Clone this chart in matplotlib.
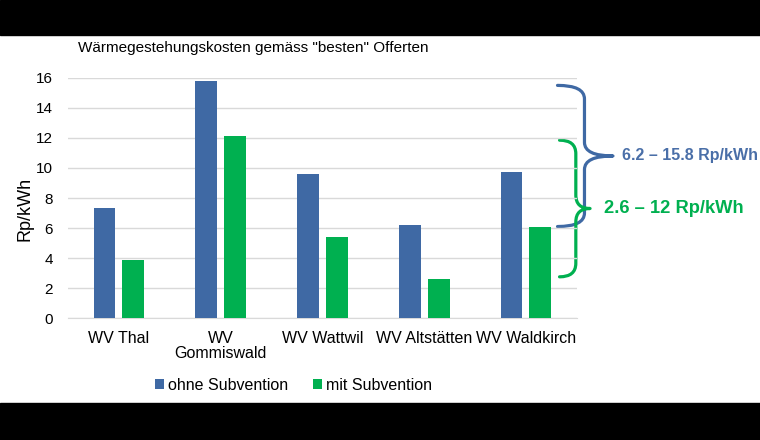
import numpy as np
import matplotlib
matplotlib.use('Agg')
import matplotlib.pyplot as plt
from matplotlib.path import Path
from matplotlib.patches import PathPatch, Rectangle
from matplotlib.transforms import blended_transform_factory

plt.rcParams['font.family'] = ['Liberation Sans', 'DejaVu Sans']

# Daten
kategorien = ['WV Thal', 'WV\nGommiswald', 'WV Wattwil', 'WV Altstätten', 'WV Waldkirch']
ohne_subvention = [7.35, 15.8, 9.6, 6.2, 9.75]
mit_subvention = [3.85, 12.15, 5.4, 2.6, 6.1]
bereich_ohne = [6.2, 15.8]
bereich_mit = [2.6, 12.0]
text_ohne = '6.2 – 15.8 Rp/kWh'
text_mit = '2.6 – 12 Rp/kWh'

blau = '#3f69a4'
gruen = '#00b050'


def klammer(ax, x_haken, x_linie, x_spitze, y_unten, y_oben, farbe, r=0.9):
    # geschweifte Klammer "}" : x in Achsenanteil, y in Datenwerten
    tr = blended_transform_factory(ax.transAxes, ax.transData)
    ym = (y_unten + y_oben) / 2
    verts = [
        (x_haken, y_oben),
        (x_linie, y_oben), (x_linie, y_oben - r),
        (x_linie, ym + r),
        (x_linie, ym), (x_spitze, ym),
        (x_linie, ym), (x_linie, ym - r),
        (x_linie, y_unten + r),
        (x_linie, y_unten), (x_haken, y_unten),
    ]
    codes = [Path.MOVETO,
             Path.CURVE3, Path.CURVE3,
             Path.LINETO,
             Path.CURVE3, Path.CURVE3,
             Path.CURVE3, Path.CURVE3,
             Path.LINETO,
             Path.CURVE3, Path.CURVE3]
    patch = PathPatch(Path(verts, codes), facecolor='none', edgecolor=farbe,
                      lw=2.3, transform=tr, clip_on=False, capstyle='round',
                      joinstyle='round')
    ax.add_patch(patch)


fig = plt.figure(figsize=(7.6, 4.4), dpi=100)
ax = fig.add_axes([0.0895, 0.277, 0.6695, 0.546])

x = np.arange(len(kategorien))
breite = 0.215
versatz = 0.142
ax.bar(x - versatz, ohne_subvention, breite, color=blau, label='ohne Subvention', zorder=3)
ax.bar(x + versatz, mit_subvention, breite, color=gruen, label='mit Subvention', zorder=3)

ax.set_xlim(-0.5, len(kategorien) - 0.5)
ax.set_ylim(0, 16)
ax.set_yticks(range(0, 17, 2))
ax.set_xticks(x)
ax.set_xticklabels(kategorien, fontsize=11.5, linespacing=1.05)
ax.tick_params(axis='y', labelsize=11, length=0, pad=11)
ax.tick_params(axis='x', length=0, pad=9)
ax.grid(axis='y', color='#d9d9d9', lw=1, zorder=0)
for s in ['top', 'right', 'left']:
    ax.spines[s].set_visible(False)
ax.spines['bottom'].set_color('#d9d9d9')
ax.set_ylabel('Rp/kWh', fontsize=13, labelpad=2)
ax.yaxis.set_label_coords(-0.068, 0.455)

fig.text(0.103, 0.89, 'Wärmegestehungskosten gemäss "besten" Offerten',
         fontsize=11, va='center', ha='left')

fig.legend(loc='center', bbox_to_anchor=(0.386, 0.125), ncol=2, frameon=False,
           fontsize=11.5, handlelength=0.55, handleheight=0.55, handletextpad=0.25,
           columnspacing=1.6)

# Klammern und Beschriftungen
klammer(ax, 0.962, 1.015, 1.071, bereich_ohne[0] - 0.1, bereich_ohne[1] - 0.3, blau)
klammer(ax, 0.966, 0.998, 1.026, bereich_mit[0] + 0.15, bereich_mit[1] - 0.15, gruen)
ax.text(1.088, 10.8, text_ohne, transform=blended_transform_factory(ax.transAxes, ax.transData),
        color='#4a6fa8', fontsize=11.5, fontweight='bold', va='center', ha='left')
ax.text(1.053, 7.3, text_mit, transform=blended_transform_factory(ax.transAxes, ax.transData),
        color=gruen, fontsize=13.2, fontweight='bold', va='center', ha='left')

# schwarze Balken oben und unten
fig.patches.append(Rectangle((0, 1 - 35 / 440), 1, 35 / 440, transform=fig.transFigure,
                             color='black', zorder=10))
fig.patches.append(Rectangle((0, 0), 1, 37 / 440, transform=fig.transFigure,
                             color='black', zorder=10))

fig.savefig('out.png', dpi=100)
